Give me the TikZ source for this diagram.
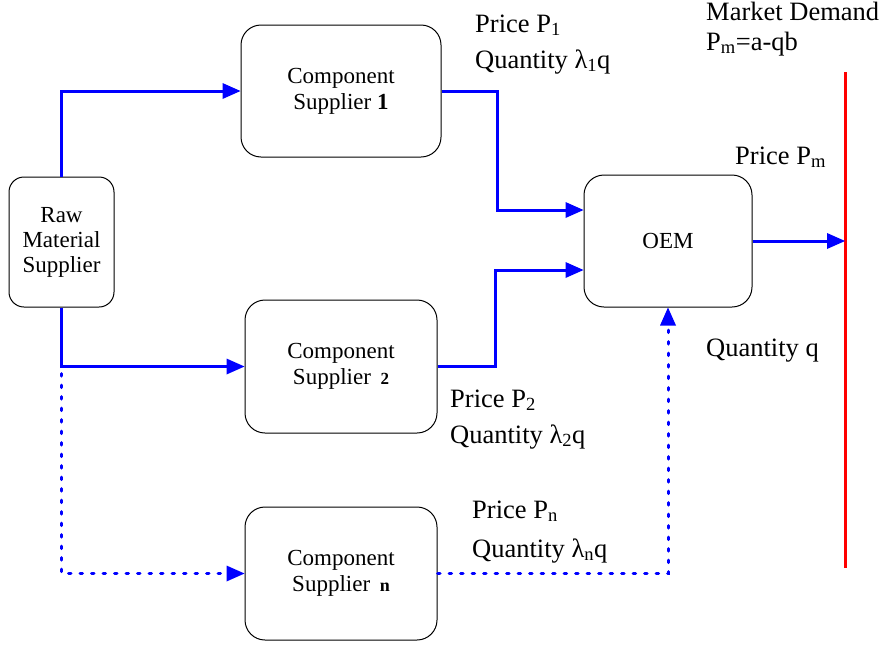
\documentclass[tikz,border=0pt]{standalone}
\usepackage{fontspec}
\setmainfont{Liberation Serif}
\usetikzlibrary{arrows.meta}
\begin{document}
\begin{tikzpicture}[x=1pt,y=-1pt,
  box/.style={draw=black, line width=1pt, rounded corners=20pt, align=center,
    font=\fontsize{23}{26}\selectfont, inner sep=0pt},
  flow/.style={draw=blue, line width=3pt,
    -{Triangle[length=18pt,width=16pt,line width=0pt]}},
  dotflow/.style={flow, line cap=round, dash pattern=on 2.5pt off 9pt},
  lbl/.style={anchor=base west, inner sep=0pt, font=\fontsize{26.5}{30}\selectfont}
]
\useasboundingbox (0,0) rectangle (882,648);

% suppliers and manufacturer
\node[box, rounded corners=15pt, minimum width=105pt, minimum height=130pt] (raw) at (61.5,242)
  {Raw\\[-1pt]Material\\[-1pt]Supplier};
\node[box, minimum width=200pt, minimum height=132pt] (cs1) at (341,91)
  {Component\\Supplier {\bfseries 1}};
\node[box, minimum width=192pt, minimum height=133pt] (cs2) at (341,366.5)
  {Component\\Supplier\, {\fontsize{17}{20}\selectfont\bfseries 2}};
\node[box, minimum width=192pt, minimum height=133pt] (csn) at (341,573.5)
  {Component\\Supplier\, {\fontsize{18}{20}\selectfont\bfseries n}};
\node[box, minimum width=168pt, minimum height=132pt] (oem) at (668,241) {OEM};

% market demand line
\coordinate (mtop) at (845,72);
\coordinate (mbot) at (845,568);
\coordinate (mk) at (845,241);
\draw[red, line width=3pt] (mtop) -- (mbot);

% bend points
\coordinate (b1) at (497,210);
\coordinate (b2) at (495,270);
\coordinate (split) at (raw.south |- cs2.west);

% material and component flows
\draw[flow] (raw.north) |- (cs1.west);
\draw[flow] (raw.south) |- (cs2.west);
\draw[dotflow] ([yshift=-7pt]split) |- (csn.west);
\draw[flow] (cs1.east) -| (b1) -- (oem.west |- b1);
\draw[flow] (cs2.east) -| (b2) -- (oem.west |- b2);
\draw[dotflow] (csn.east) -| (oem.south);
\draw[flow] (oem.east) -- (mk);

% price and quantity labels
\node[lbl] (p1) at (475,32) {Price P\textsubscript{1}};
\node[lbl] (q1) at (475,68) {Quantity λ\textsubscript{1}q};
\node[lbl] (p2) at (450,407) {Price P\textsubscript{2}};
\node[lbl] (q2) at (450,443) {Quantity λ\textsubscript{2}q};
\node[lbl] (pn) at (472,518) {Price P\textsubscript{n}};
\node[lbl] (qn) at (472,557) {Quantity λ\textsubscript{n}q};
\node[lbl] (md) at (706,20) {Market Demand};
\node[lbl] (pf) at (706,50) {P\textsubscript{m}=a-qb};
\node[lbl] (pm) at (735,164) {Price P\textsubscript{m}};
\node[lbl] (qm) at (706,356) {Quantity q};
\end{tikzpicture}
\end{document}
